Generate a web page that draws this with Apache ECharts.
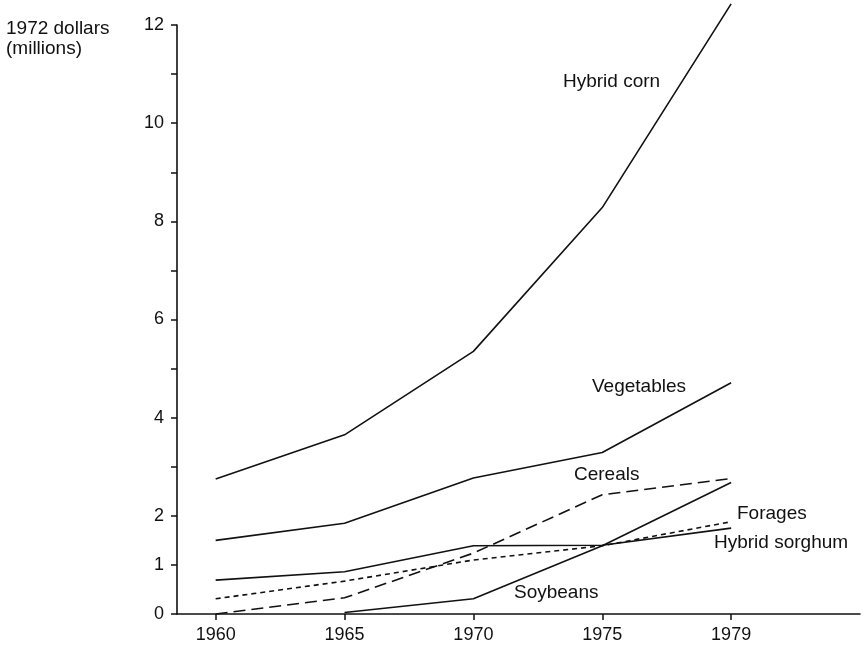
<!DOCTYPE html>
<html><head><meta charset="utf-8">
<script src="https://cdn.jsdelivr.net/npm/echarts@6/dist/echarts.min.js"></script>
<style>html,body{margin:0;padding:0;background:#fff}#c{width:864px;height:646px}</style>
</head><body><div id="c"></div>
<script>
const years = ['1960','1965','1970','1975','1979'];
const hybridCorn = [2.75, 3.65, 5.35, 8.28, 12.43];
const vegetables = [1.50, 1.85, 2.77, 3.29, 4.71];
const cereals = [0.0, 0.33, 1.24, 2.43, 2.76];
const forages = [0.31, 0.67, 1.10, 1.39, 1.88];
const hybridSorghum = [0.69, 0.86, 1.39, 1.40, 1.75];
const soybeans = [null, 0.03, 0.31, 1.39, 2.68];
const yTickLabels = [0, 1, 2, 4, 6, 8, 10, 12];

const FONT = '"Liberation Sans", Arial, sans-serif';
const toPts = arr => arr.map((v, i) => v === null ? null : [i, v]).filter(p => p);

function line(name, data, type) {
  return {
    name, type: 'line', data: toPts(data), symbol: 'none', clip: false,
    lineStyle: { color: '#111', width: 1.6, type: type || 'solid' },
    animation: false
  };
}

const chart = echarts.init(document.getElementById('c'), null, { renderer: 'canvas' });
chart.setOption({
  backgroundColor: '#fff',
  grid: { left: 177, right: 4, top: 25, bottom: 32, containLabel: false },
  xAxis: {
    type: 'value', min: -0.3, max: 5,
    splitLine: { show: false },
    axisLine: { show: true, onZero: false, lineStyle: { color: '#111', width: 1.6 } },
    axisTick: { show: true, customValues: [0, 1, 2, 3, 4], length: 6, lineStyle: { color: '#111', width: 1.5 } },
    axisLabel: { customValues: [0, 1, 2, 3, 4], formatter: v => years[Math.round(v)], color: '#111', fontFamily: FONT, fontSize: 18, margin: 12 }
  },
  yAxis: {
    type: 'value', min: 0, max: 12, interval: 1,
    splitLine: { show: false },
    axisLine: { show: true, onZero: false, lineStyle: { color: '#111', width: 1.6 } },
    axisTick: { show: true, length: 6, lineStyle: { color: '#111', width: 1.5 } },
    axisLabel: { customValues: yTickLabels, color: '#111', fontFamily: FONT, fontSize: 18, margin: 13 }
  },
  series: [
    line('Hybrid corn', hybridCorn),
    line('Vegetables', vegetables),
    line('Cereals', cereals, [12, 6]),
    line('Forages', forages, [5, 4]),
    line('Hybrid sorghum', hybridSorghum),
    line('Soybeans', soybeans)
  ],
  graphic: [
    { type: 'text', left: 6, top: 19, style: { text: '1972 dollars\n(millions)', font: '19px ' + FONT, fill: '#111', lineHeight: 20 } },
    { type: 'text', x: 563, y: 82, style: { text: 'Hybrid corn', font: '19px ' + FONT, fill: '#111', verticalAlign: 'middle' } },
    { type: 'text', x: 592, y: 387, style: { text: 'Vegetables', font: '19px ' + FONT, fill: '#111', verticalAlign: 'middle' } },
    { type: 'text', x: 574, y: 475, style: { text: 'Cereals', font: '19px ' + FONT, fill: '#111', verticalAlign: 'middle' } },
    { type: 'text', x: 737, y: 514, style: { text: 'Forages', font: '19px ' + FONT, fill: '#111', verticalAlign: 'middle' } },
    { type: 'text', x: 714, y: 543, style: { text: 'Hybrid sorghum', font: '19px ' + FONT, fill: '#111', verticalAlign: 'middle' } },
    { type: 'text', x: 514, y: 593, style: { text: 'Soybeans', font: '19px ' + FONT, fill: '#111', verticalAlign: 'middle' } }
  ]
});
</script></body></html>
